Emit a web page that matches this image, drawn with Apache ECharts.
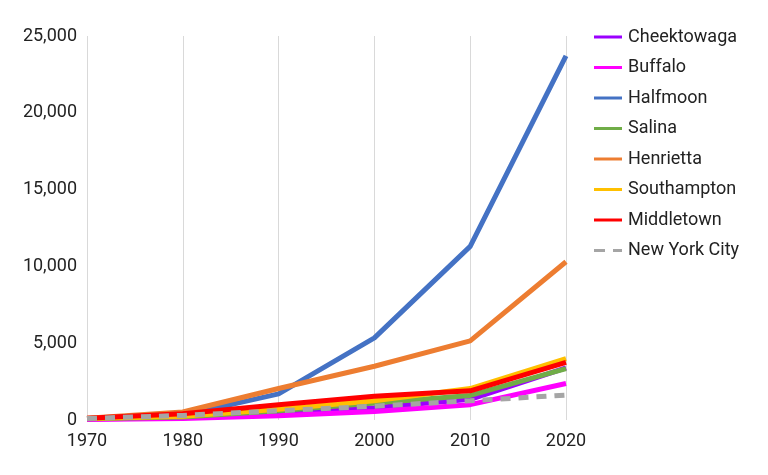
<!DOCTYPE html>
<html><head><meta charset="utf-8">
<script src="https://cdn.jsdelivr.net/npm/echarts@6/dist/echarts.min.js"></script>
<style>html,body{margin:0;padding:0;background:#fff}#c{width:768px;height:475px}</style>
</head><body><div id="c"></div>
<script>
const years = ['1970','1980','1990','2000','2010','2020'];
const cheektowaga = [60, 150, 450, 800, 1350, 3400];
const buffalo = [40, 100, 280, 550, 1000, 2380];
const halfmoon = [100, 300, 1700, 5350, 11300, 23700];
const salina = [80, 200, 600, 1100, 1600, 3350];
const henrietta = [120, 520, 2050, 3500, 5150, 10300];
const southampton = [90, 250, 700, 1250, 2050, 4000];
const middletown = [110, 400, 1000, 1550, 1900, 3750];
const nyc = [100, 300, 600, 900, 1250, 1620];

const names = ['Cheektowaga','Buffalo','Halfmoon','Salina','Henrietta','Southampton','Middletown','New York City'];
const datas = [cheektowaga, buffalo, halfmoon, salina, henrietta, southampton, middletown, nyc];
const colors = ['#9b00ff','#ff00ff','#4472c4','#70ad47','#ed7d31','#ffc000','#ff0000','#a5a5a5'];

const series = names.map((n,i)=>({
  name:n, type:'line', data:datas[i], symbol:'none', smooth:false,
  lineStyle:{width:5, color:colors[i], type: i===7?[10,8]:'solid'},
  itemStyle:{color:colors[i]}
}));

const chart = echarts.init(document.getElementById('c'));
chart.setOption({
  animation:false,
  color:colors,
  grid:{left:87,right:202,top:36,bottom:55,containLabel:false},
  legend:{
    orient:'vertical', left:594, top:28, padding:0, itemGap:12.5, itemWidth:28, itemHeight:3,
    icon:'rect',
    textStyle:{fontFamily:'Roboto', fontSize:18, lineHeight:18, color:'#222', padding:[0,0,0,1]},
    data:names.map((n,i)=> i===7 ? {name:n, icon:'path://M0,0h11v3h-11zM19,0h9v3h-9z'} : {name:n})
  },
  xAxis:{
    type:'category', data:years, boundaryGap:false,
    axisLine:{show:false}, axisTick:{show:false},
    axisLabel:{fontFamily:'Roboto', fontSize:18, color:'#222', margin:12},
    splitLine:{show:true, lineStyle:{color:'#d9d9d9', width:1}}
  },
  yAxis:{
    type:'value', min:0, max:25000, interval:5000,
    axisLine:{show:false}, axisTick:{show:false},
    axisLabel:{fontFamily:'Roboto', fontSize:18, color:'#222', margin:10,
      formatter:v=>v.toLocaleString('en-US')},
    splitLine:{show:false}
  },
  series:series
});
</script></body></html>
